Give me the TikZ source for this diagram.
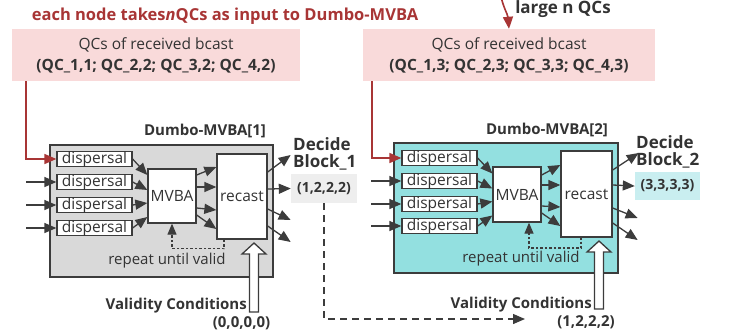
\documentclass[tikz,border=0pt]{standalone}
\usepackage{fontspec}
\setmainfont{Open Sans}
\usetikzlibrary{arrows.meta}

\definecolor{qcred}{HTML}{A83535}
\definecolor{qcpink}{HTML}{F9DADA}
\definecolor{mvgray}{HTML}{D9D9D9}
\definecolor{mvteal}{HTML}{93E0E0}
\definecolor{linegray}{HTML}{3C3C3C}
\definecolor{txtgray}{HTML}{333333}
\definecolor{valgray}{HTML}{EEEEEE}
\definecolor{valcyan}{HTML}{C9EEF0}

\tikzset{
  txt/.style = {text=txtgray, inner sep=0pt, font=\fontsize{15}{17}\selectfont},
  boldtxt/.style = {text=txtgray, inner sep=0pt, font=\fontsize{15}{17}\selectfont\bfseries},
  decide/.style = {text=txtgray, inner sep=0pt, align=left, font=\fontsize{17}{17}\selectfont\bfseries},
  qcbox/.style = {fill=qcpink, text=txtgray, minimum height=52pt, align=center, inner sep=0pt, font=\fontsize{15.5}{21}\selectfont},
  mvframe/.style = {draw=linegray, line width=1.4pt, inner sep=0pt},
  dispbox/.style = {draw=linegray, fill=white, line width=1.3pt, minimum width=75pt, minimum height=15pt, inner sep=0pt, text=txtgray, font=\fontsize{15.5}{15}\selectfont},
  procbox/.style = {draw=linegray, fill=white, line width=1.3pt, inner sep=0pt, text=txtgray, font=\fontsize{15.5}{15}\selectfont},
  valbox/.style = {minimum width=66pt, minimum height=29pt, inner sep=0pt, text=txtgray, font=\fontsize{14}{14}\selectfont\bfseries},
  arr/.style = {draw=linegray, line width=1.3pt, -{Triangle[length=12pt,width=10pt]}},
  redarr/.style = {draw=qcred, line width=1.6pt, -{Triangle[length=12pt,width=10pt]}},
  loopline/.style = {draw=linegray, line width=1.2pt, dash pattern=on 2.5pt off 2pt, -{Triangle[length=11pt,width=9pt]}},
  dasharr/.style = {draw=linegray, line width=1.3pt, dash pattern=on 7pt off 5pt, -{Triangle[length=12pt,width=10pt]}},
  hollow/.style = {draw=linegray, fill=white, line width=1.3pt, line join=miter}
}

% x of shaft, y of tip, y of head base, y of bottom
\newcommand{\condarrow}[4]{%
  \draw[hollow] (#1-4.5,#4) -- (#1-4.5,#3) -- (#1-12,#3) -- (#1,#2) -- (#1+12,#3) -- (#1+4.5,#3) -- (#1+4.5,#4) -- cycle;}

\begin{document}
\begin{tikzpicture}[x=1pt, y=-1pt]
\useasboundingbox (0,0) rectangle (730,335);

% top labels
\node[text=qcred, inner sep=0pt, font=\fontsize{16.5}{17}\selectfont\bfseries] (title) at (225,16) {each node takes\textit{n}QCs as input to Dumbo-MVBA};
\node[decide] (large) at (563,9) {large n QCs};
\coordinate (lnq) at (500,-8);

\node[qcbox, minimum width=288pt] (qc1) at (156,55) {QCs of received bcast\\\textbf{(QC\_1,1; QC\_2,2; QC\_3,2; QC\_4,2)}};
\node[qcbox, minimum width=292pt] (qc2) at (509,55) {QCs of received bcast\\\textbf{(QC\_1,3; QC\_2,3; QC\_3,3; QC\_4,3)}};
\draw[redarr] (lnq) to[out=-80,in=95] (qc2.north);

% Dumbo-MVBA[1]
\node[mvframe, fill=mvgray, minimum width=223pt, minimum height=132pt] (mv1) at (161.5,211) {};
\node[boldtxt] (mvt1) at (205,131) {Dumbo-MVBA[1]};
\node[dispbox] (d11) at (94.5,159) {dispersal};
\node[dispbox] (d12) at (94.5,182) {dispersal};
\node[dispbox] (d13) at (94.5,205) {dispersal};
\node[dispbox] (d14) at (94.5,228) {dispersal};
\node[procbox, minimum width=48pt, minimum height=54pt] (m1) at (172,196) {MVBA};
\node[procbox, minimum width=50pt, minimum height=85pt] (r1) at (242,196.5) {recast};

\draw[redarr] ([xshift=14pt]qc1.south west) |- (d11.west);
\draw[arr] ([xshift=-30pt]d12.west) -- (d12.west);
\draw[arr] ([xshift=-30pt]d13.west) -- (d13.west);
\draw[arr] ([xshift=-30pt]d14.west) -- (d14.west);

\draw[arr] (d11.east) -- ([yshift=21pt]m1.west);
\draw[arr] (d12.east) -- ([yshift=6pt]m1.west);
\draw[arr] (d13.east) -- ([yshift=-7pt]m1.west);
\draw[arr] (d14.east) -- ([yshift=-21pt]m1.west);

\draw[arr] ([yshift=21pt]m1.east) -- ([yshift=29.5pt]r1.west);
\draw[arr] ([yshift=9pt]m1.east) -- ([yshift=9.5pt]r1.west);
\draw[arr] ([yshift=-12pt]m1.east) -- ([yshift=-13.5pt]r1.west);
\draw[arr] ([yshift=-19pt]m1.east) -- ([yshift=-32.5pt]r1.west);

\node[decide, anchor=west] (dec1) at (293,154) {Decide\\Block\_1};
\node[valbox, fill=valgray] (v1) at (324,188.5) {(1,2,2,2)};
\draw[arr] ([yshift=24.5pt]r1.east) -- ++(23pt,17pt);
\draw[arr] ([yshift=7.5pt]r1.east) -- (v1.west);
\draw[arr] ([yshift=-12.5pt]r1.east) -- ++(23pt,-11pt);
\draw[arr] ([yshift=-29.5pt]r1.east) -- ++(23pt,-16pt);

\draw[loopline] ([xshift=-18pt]r1.south) -- ++(0pt,-9pt) -| (m1.south);
\node[txt] (rep1) at (167,261) {repeat until valid};

\condarrow{254}{243}{254}{312}
\node[boldtxt, anchor=east] (vc1) at (247,306) {Validity Conditions};
\node[boldtxt] (vv1) at (241.5,323.5) {(0,0,0,0)};

% Dumbo-MVBA[2]
\node[mvframe, fill=mvteal, minimum width=224pt, minimum height=130pt] (mv2) at (506,208) {};
\node[boldtxt] (mvt2) at (547,130) {Dumbo-MVBA[2]};
\node[dispbox] (d21) at (439.5,158) {dispersal};
\node[dispbox] (d22) at (439.5,181) {dispersal};
\node[dispbox] (d23) at (439.5,204) {dispersal};
\node[dispbox] (d24) at (439.5,226) {dispersal};
\node[procbox, minimum width=48pt, minimum height=55pt] (m2) at (517,194.5) {MVBA};
\node[procbox, minimum width=51pt, minimum height=86pt] (r2) at (586.5,194) {recast};

\draw[redarr] ([xshift=9pt]qc2.south west) |- (d21.west);
\draw[arr] ([xshift=-30pt]d22.west) -- (d22.west);
\draw[arr] ([xshift=-30pt]d23.west) -- (d23.west);
\draw[arr] ([xshift=-30pt]d24.west) -- (d24.west);

\draw[arr] (d21.east) -- ([yshift=21pt]m2.west);
\draw[arr] (d22.east) -- ([yshift=6pt]m2.west);
\draw[arr] (d23.east) -- ([yshift=-7pt]m2.west);
\draw[arr] (d24.east) -- ([yshift=-21pt]m2.west);

\draw[arr] ([yshift=19.5pt]m2.east) -- ([yshift=29pt]r2.west);
\draw[arr] ([yshift=9.5pt]m2.east) -- ([yshift=9pt]r2.west);
\draw[arr] ([yshift=-11.5pt]m2.east) -- ([yshift=-13pt]r2.west);
\draw[arr] ([yshift=-18.5pt]m2.east) -- ([yshift=-32pt]r2.west);

\node[decide, anchor=west] (dec2) at (636,152) {Decide\\Block\_2};
\node[valbox, fill=valcyan, minimum width=65pt, minimum height=28pt] (v2) at (667.5,186) {(3,3,3,3)};
\draw[arr] ([yshift=24pt]r2.east) -- ++(26pt,17pt);
\draw[arr] ([yshift=9pt]r2.east) -- (v2.west);
\draw[arr] ([yshift=-14pt]r2.east) -- ++(25pt,-10pt);
\draw[arr] ([yshift=-29pt]r2.east) -- ++(25pt,-17pt);

\coordinate (lp2) at (581,237);
\draw[loopline] (lp2) -- ++(0pt,-11pt) -| ([xshift=12pt]m2.south);
\node[txt] (rep2) at (521,259) {repeat until valid};

\condarrow{599}{241}{252}{309}
\node[boldtxt, anchor=east] (vc2) at (592,305) {Validity Conditions};
\node[boldtxt] (vv2) at (586,322) {(1,2,2,2)};

% carried over to the next instance
\coordinate (dashend) at (525,319);
\draw[dasharr] (v1.south) |- (dashend);

\end{tikzpicture}
\end{document}
